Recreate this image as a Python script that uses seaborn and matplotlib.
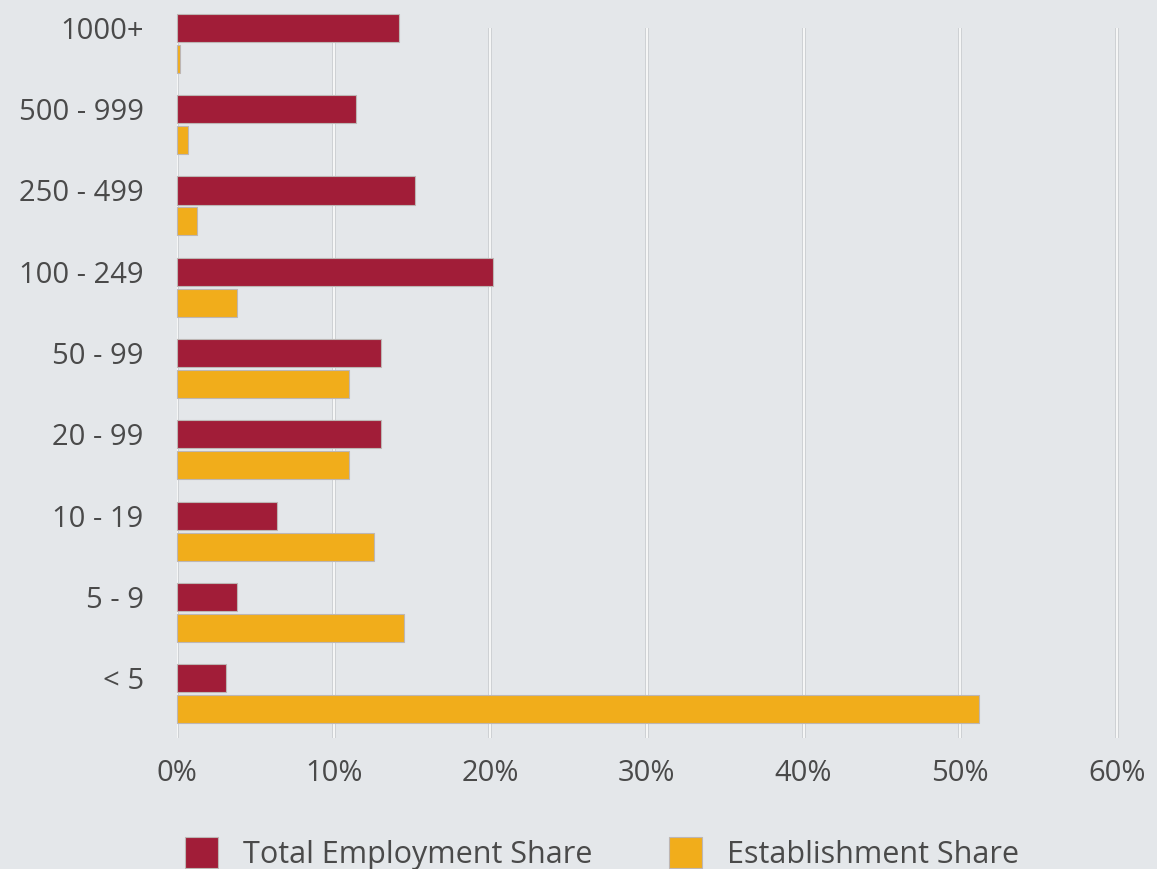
import matplotlib
matplotlib.use("Agg")
import matplotlib.pyplot as plt
import pandas as pd
import seaborn as sns

# Establishment size classes (number of employees)
size_classes = ["1000+", "500 - 999", "250 - 499", "100 - 249", "50 - 99",
                "20 - 99", "10 - 19", "5 - 9", "< 5"]
employment_share = [14.2, 11.4, 15.2, 20.2, 13.0, 13.0, 6.4, 3.8, 3.1]
establishment_share = [0.2, 0.7, 1.3, 3.8, 11.0, 11.0, 12.6, 14.5, 51.2]
series_names = ["Total Employment Share", "Establishment Share"]
x_ticks = [0, 10, 20, 30, 40, 50, 60]

BG = "#E4E7EA"
TEXT = "#4A4A4A"
RED = "#A11D38"
GOLD = "#F1AD1B"
EDGE = "#BDB6B4"

df = pd.DataFrame({
    "size": size_classes * 2,
    "share": employment_share + establishment_share,
    "series": [series_names[0]] * len(size_classes) + [series_names[1]] * len(size_classes),
})

sns.set_theme(style="white")
plt.rcParams["font.family"] = ["Open Sans", "DejaVu Sans"]

fig = plt.figure(figsize=(11.57, 8.69), dpi=100, facecolor=BG)
ax = fig.add_axes([0.153, 0.151, 0.815, 0.817], facecolor=BG)

sns.barplot(data=df, y="size", x="share", hue="series", order=size_classes,
            hue_order=series_names, palette=[RED, GOLD], saturation=1,
            orient="h", width=0.76, gap=0.09, edgecolor=EDGE, linewidth=0.8,
            legend=False, ax=ax, zorder=3)

for p in ax.patches:
    p.set_clip_on(False)

ax.set_xlim(0, 60.2)
ax.set_ylim(8.54, -0.147)

# vertical gridlines: soft grey halo with a white core
for t in x_ticks:
    ax.axvline(t, color="#C9CCCF", lw=2.6, zorder=1)
    ax.axvline(t, color="#FFFFFF", lw=1.2, zorder=2)

ax.set_xticks(x_ticks)
ax.set_xticklabels([f"{t}%" for t in x_ticks])

# category labels sit beside the first bar of each pair
n = len(size_classes)
first_bars = ax.patches[:n]
ax.set_yticks([p.get_y() + p.get_height() / 2 for p in first_bars])
ax.set_yticklabels(size_classes)

ax.tick_params(axis="x", length=0, pad=15, labelsize=21, labelcolor=TEXT)
ax.tick_params(axis="y", length=0, pad=24, labelsize=21, labelcolor=TEXT)
ax.set_xlabel("")
ax.set_ylabel("")
for s in ax.spines.values():
    s.set_visible(False)

handles = [plt.Rectangle((0, 0), 1, 1, facecolor=c, edgecolor=EDGE, lw=0.8)
           for c in (RED, GOLD)]
leg = fig.legend(handles, series_names, loc="center", bbox_to_anchor=(0.52, 0.018),
                 ncol=2, frameon=False, fontsize=22, handlelength=1.1,
                 handleheight=1.2, handletextpad=0.8, columnspacing=2.5)
for t in leg.get_texts():
    t.set_color(TEXT)

fig.savefig("out.png", dpi=100, facecolor=BG)
